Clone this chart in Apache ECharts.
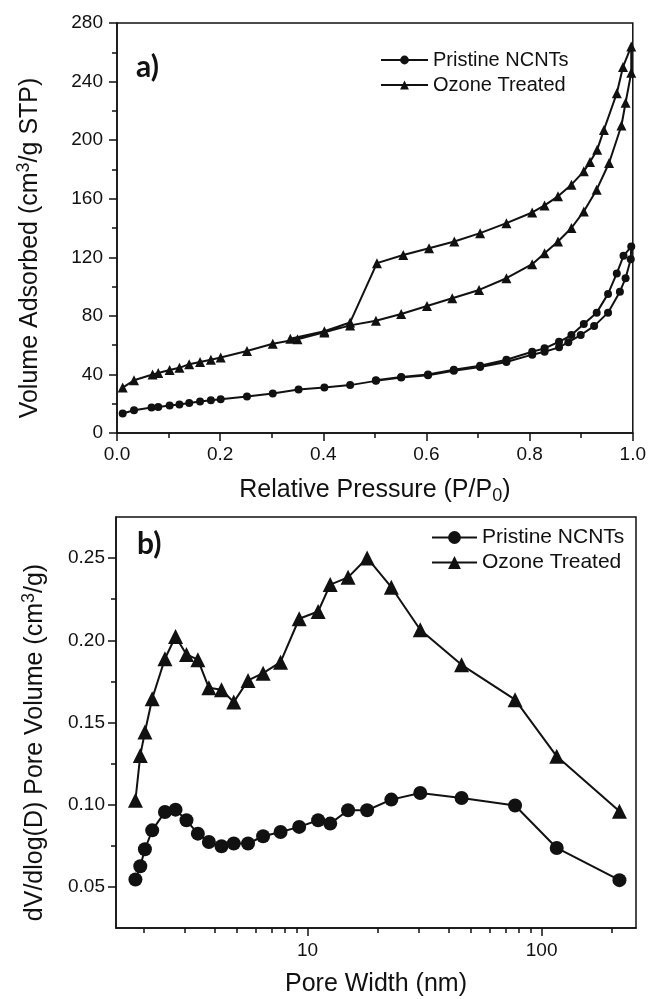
<!DOCTYPE html>
<html>
<head>
<meta charset="utf-8">
<script src="https://cdn.jsdelivr.net/npm/echarts@6/dist/echarts.min.js"></script>
<style>
html, body { margin: 0; padding: 0; background: #fff; }
#chart { width: 649px; height: 999px; }
</style>
</head>
<body>
<div id="chart"></div>
<script>
// a) N2 isotherms, adsorption then desorption branch in one run
const ozoneP = [0.011, 0.033, 0.069, 0.080, 0.102, 0.121, 0.140, 0.161, 0.182, 0.201, 0.252, 0.302, 0.350, 0.402, 0.452, 0.502, 0.551, 0.601, 0.650, 0.702, 0.755, 0.805, 0.829, 0.855, 0.881, 0.905, 0.930, 0.954, 0.978, 0.986, 0.997,
    0.997, 0.981, 0.969, 0.944, 0.931, 0.917, 0.905, 0.881, 0.855, 0.829, 0.805, 0.755, 0.704, 0.654, 0.605, 0.555, 0.504, 0.452, 0.402, 0.336]
const ozoneV = [31, 36, 40, 41, 43, 44.5, 47, 48.5, 50, 51.6, 56, 61, 64, 68.7, 73.5, 76.7, 81.3, 86.7, 92, 97.7, 105.7, 115.3, 122.8, 130.8, 140, 151.3, 166.2, 184.4, 210, 225.5, 246,
    264, 250, 232, 207, 193.5, 185, 178.7, 169.6, 161.6, 155.4, 150.6, 143.3, 136.5, 130.8, 126.2, 121.6, 116, 75.5, 69.5, 64.4]
const pristineP = [0.011, 0.033, 0.067, 0.080, 0.102, 0.121, 0.140, 0.161, 0.182, 0.201, 0.252, 0.302, 0.352, 0.402, 0.452, 0.502, 0.551, 0.603, 0.653, 0.704, 0.755, 0.805, 0.829, 0.857, 0.875, 0.899, 0.925, 0.952, 0.975, 0.986, 0.996,
    0.997, 0.982, 0.969, 0.952, 0.930, 0.905, 0.881, 0.857, 0.829, 0.805, 0.755, 0.704, 0.653, 0.603, 0.551, 0.502]
const pristineV = [13.3, 15.5, 17.4, 17.8, 18.8, 19.4, 20.5, 21.5, 22.4, 23.1, 24.9, 27, 29.7, 31.1, 32.7, 35.6, 37.9, 39.5, 42.5, 45, 48.5, 53.5, 55.5, 58.5, 62, 66.9, 73, 82.2, 96.5, 105.7, 118.7,
    127.3, 121, 109, 95, 82.2, 74.4, 66.9, 62.3, 57.8, 55.5, 50, 46, 43.2, 40, 38.2, 36]

// b) pore size distribution
const widthNm = [1.84, 1.93, 2.02, 2.17, 2.46, 2.73, 3.04, 3.40, 3.79, 4.29, 4.84, 5.57, 6.46, 7.67, 9.21, 11.1, 12.5, 14.9, 17.97, 22.8, 30.3, 45.5, 77, 116, 215]
const pristineDv = [0.0545, 0.0626, 0.0729, 0.0844, 0.0956, 0.097, 0.0905, 0.0824, 0.0773, 0.0747, 0.0764, 0.0764, 0.0808, 0.0834, 0.0865, 0.0905, 0.0885, 0.0966, 0.0966, 0.1031, 0.1071, 0.1041, 0.0995, 0.0737, 0.0541]
const ozoneDv = [0.1027, 0.130, 0.1442, 0.1645, 0.1888, 0.2023, 0.1914, 0.1882, 0.1711, 0.1699, 0.1624, 0.1756, 0.18, 0.1867, 0.2131, 0.2175, 0.2339, 0.2383, 0.2501, 0.2323, 0.2064, 0.1851, 0.1639, 0.1294, 0.096]

// tick positions
const logMajor = [10, 100]
const logMinor = [2, 3, 4, 5, 6, 7, 8, 9, 20, 30, 40, 50, 60, 70, 80, 90, 200]
const dvMajor = [0.05, 0.10, 0.15, 0.20, 0.25]
const dvMinor = [0.075, 0.125, 0.175, 0.225]

const zip = (xs, ys) => xs.map((x, i) => [x, ys[i]])

const FONT = "'Liberation Sans', Arial, sans-serif"
const INK = '#111'

const axisLine = {show: true, lineStyle: {color: INK, width: 1.5}}
const tickStyle = {color: INK, width: 1.5}
const labelStyle = {color: INK, fontFamily: FONT, fontSize: 19}
const nameStyle = {
    color: INK, fontFamily: FONT, fontSize: 25,
    rich: {
        t: {fontFamily: FONT, fontSize: 25, color: INK},
        sup: {fontFamily: FONT, fontSize: 18, color: INK, verticalAlign: 'top', padding: [0, 0, 12, 0]},
        sub: {fontFamily: FONT, fontSize: 18, color: INK, padding: [12, 0, 0, 0]}
    }
}

const chart = echarts.init(document.getElementById('chart'), null, {renderer: 'canvas'})

const option = {
    backgroundColor: '#fff',
    animation: false,
    title: [
        {text: 'a)', left: 131, top: 47, textStyle: {fontFamily: "Lato, 'Open Sans', sans-serif", fontWeight: 'bold', fontSize: 30, color: INK}},
        {text: 'b)', left: 132, top: 524, textStyle: {fontFamily: "Lato, 'Open Sans', sans-serif", fontWeight: 'bold', fontSize: 30, color: INK}}
    ],
    legend: [
        {
            orient: 'vertical', left: 375, top: 45, itemWidth: 47, itemHeight: 11, itemGap: 5,
            data: ['Pristine NCNTs', 'Ozone Treated'], selectedMode: false,
            textStyle: {fontFamily: FONT, fontSize: 20, color: INK}
        },
        {
            orient: 'vertical', left: 426, top: 522, itemWidth: 45, itemHeight: 16, itemGap: 4,
            data: ['Pristine NCNTs ', 'Ozone Treated '], selectedMode: false,
            formatter: name => name.trim(),
            textStyle: {fontFamily: FONT, fontSize: 21, color: INK}
        }
    ],
    grid: [
        {left: 117, top: 23, right: 15, height: 410, show: true, borderColor: INK, borderWidth: 1.5},
        {left: 116, top: 517, right: 13, height: 411, show: true, borderColor: INK, borderWidth: 1.5}
    ],
    xAxis: [
        {
            gridIndex: 0, type: 'value', min: 0, max: 1, interval: 0.2,
            axisLine, splitLine: {show: false},
            axisTick: {show: true, length: 8, lineStyle: tickStyle},
            minorTick: {show: true, splitNumber: 2, length: 5, lineStyle: tickStyle},
            axisLabel: {...labelStyle, margin: 12, formatter: v => v.toFixed(1)},
            name: '{t|Relative Pressure (P/P}{sub|0}{t|)}', nameLocation: 'middle', nameGap: 42,
            nameTextStyle: nameStyle
        },
        {
            gridIndex: 1, type: 'log', logBase: 10, min: 1.52, max: 253, position: 'bottom',
            axisLine, splitLine: {show: false},
            axisTick: {show: true, length: 8, lineStyle: tickStyle, customValues: logMajor},
            axisLabel: {...labelStyle, margin: 13, customValues: logMajor},
            name: 'Pore Width (nm)', nameLocation: 'middle', nameGap: 44,
            nameTextStyle: nameStyle
        },
        {
            gridIndex: 1, type: 'log', logBase: 10, min: 1.52, max: 253, position: 'bottom', offset: 0,
            axisLine: {show: false}, splitLine: {show: false},
            axisTick: {show: true, length: 5, lineStyle: tickStyle, customValues: logMinor},
            axisLabel: {show: false}
        }
    ],
    yAxis: [
        {
            gridIndex: 0, type: 'value', min: 0, max: 280, interval: 40,
            axisLine, splitLine: {show: false},
            axisTick: {show: true, length: 8, lineStyle: tickStyle},
            minorTick: {show: true, splitNumber: 2, length: 5, lineStyle: tickStyle},
            axisLabel: {...labelStyle, margin: 14},
            name: '{t|Volume Adsorbed (cm}{sup|3}{t|/g STP)}', nameLocation: 'middle', nameGap: 72,
            nameTextStyle: {...nameStyle, padding: [0, 40, 0, 0]}
        },
        {
            gridIndex: 1, type: 'value', min: 0.025, max: 0.275, position: 'left',
            axisLine, splitLine: {show: false},
            axisTick: {show: true, length: 8, lineStyle: tickStyle, customValues: dvMajor},
            axisLabel: {...labelStyle, margin: 11, customValues: dvMajor, formatter: v => v.toFixed(2)},
            name: '{t|dV/dlog(D) Pore Volume (cm}{sup|3}{t|/g)}', nameLocation: 'middle', nameGap: 66,
            nameTextStyle: {...nameStyle, padding: [0, 40, 0, 0]}
        },
        {
            gridIndex: 1, type: 'value', min: 0.025, max: 0.275, position: 'left', offset: 0,
            axisLine: {show: false}, splitLine: {show: false},
            axisTick: {show: true, length: 5, lineStyle: tickStyle, customValues: dvMinor},
            axisLabel: {show: false}
        }
    ],
    series: [
        {
            name: 'Pristine NCNTs', type: 'line', xAxisIndex: 0, yAxisIndex: 0,
            data: zip(pristineP, pristineV), symbol: 'circle', symbolSize: 8,
            lineStyle: {color: INK, width: 2}, itemStyle: {color: INK}
        },
        {
            name: 'Ozone Treated', type: 'line', xAxisIndex: 0, yAxisIndex: 0,
            data: zip(ozoneP, ozoneV), symbol: 'triangle', symbolSize: 10,
            lineStyle: {color: INK, width: 2}, itemStyle: {color: INK}
        },
        {
            name: 'Pristine NCNTs ', type: 'line', xAxisIndex: 1, yAxisIndex: 1,
            data: zip(widthNm, pristineDv), symbol: 'circle', symbolSize: 14,
            lineStyle: {color: INK, width: 2}, itemStyle: {color: INK}
        },
        {
            name: 'Ozone Treated ', type: 'line', xAxisIndex: 1, yAxisIndex: 1,
            data: zip(widthNm, ozoneDv), symbol: 'triangle', symbolSize: 15,
            lineStyle: {color: INK, width: 2}, itemStyle: {color: INK}
        }
    ]
}

chart.setOption(option)
</script>
</body>
</html>
